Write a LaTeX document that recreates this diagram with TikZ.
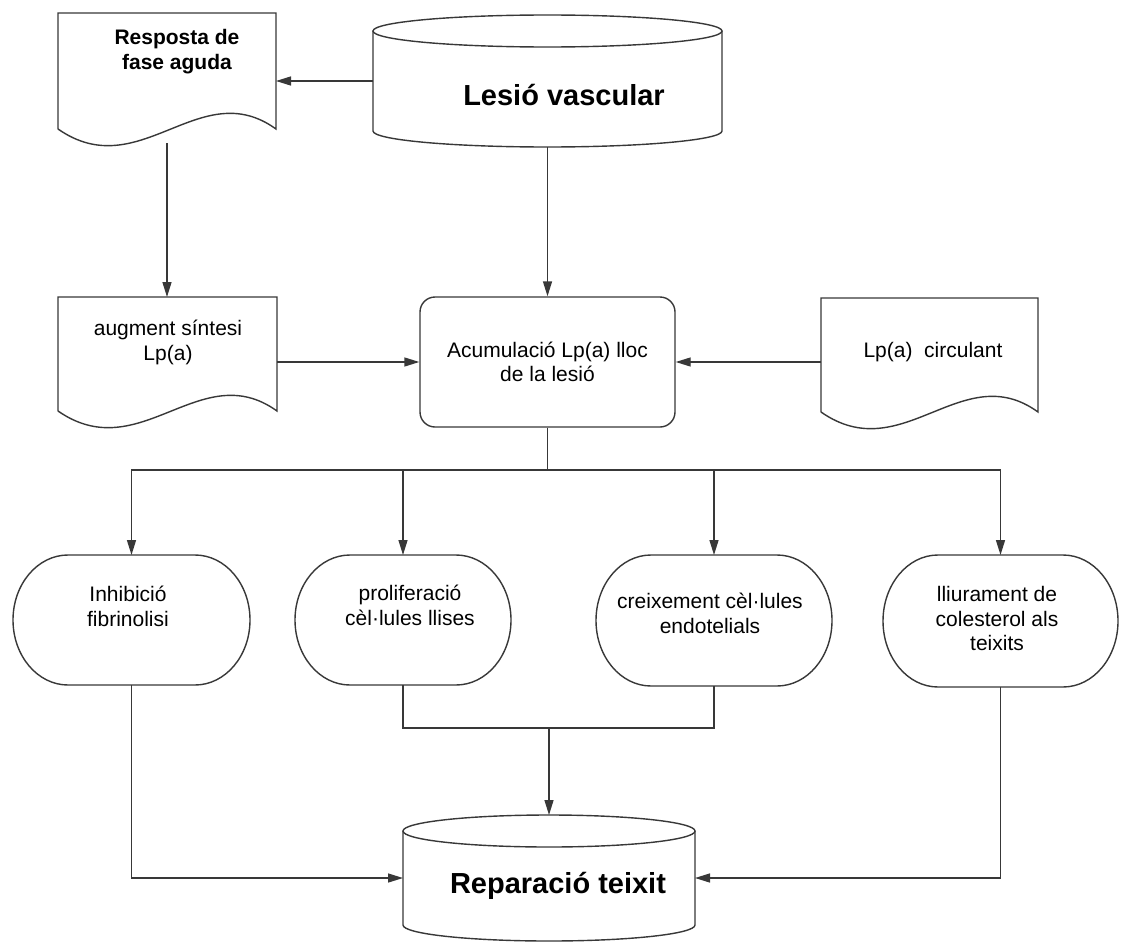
\documentclass[tikz,border=0pt]{standalone}
\usepackage{fontspec}
\setmainfont{Liberation Sans}
\usetikzlibrary{arrows.meta,calc}
\newcommand\mydoc[4]{%
  \pgfmathsetmacro\mydocw{#2-#1}%
  \draw[line] (#1,#4) -- (#1,#3) -- (#2,#3) -- (#2,#4)
    .. controls ({#2-0.35*\mydocw},{#4-55}) and ({#1+0.375*\mydocw},{#4+57}) .. (#1,#4);}
\newcommand\mycyl[4]{%
  \pgfmathsetmacro\cylrx{(#2-#1)/2}%
  \pgfmathsetmacro\cylcx{(#1+#2)/2}%
  \draw[line] (\cylcx,#3+16) ellipse[x radius=\cylrx pt, y radius=16pt];
  \draw[line] (#1,#3+16) -- (#1,#4-16) arc[start angle=180,end angle=360,x radius=\cylrx pt,y radius=16pt] -- (#2,#3+16);}
\newcommand\myterm[4]{%
  \pgfmathsetmacro\termry{(#4-#3)/2}%
  \draw[line] (#1+55,#3) -- (#2-55,#3) arc[start angle=90,end angle=-90,x radius=55pt,y radius=\termry pt]
    -- (#1+55,#4) arc[start angle=270,end angle=90,x radius=55pt,y radius=\termry pt] -- cycle;}
\begin{document}
\begin{tikzpicture}[x=1pt,y=-1pt,
  line/.style={draw=black!78, line width=1.4pt},
  arr/.style={line, -{Triangle[length=15pt,width=9pt]}},
  frame/.style={rectangle, inner sep=0pt, outer sep=0pt},
  txt/.style={fill=white, inner xsep=10pt, inner ysep=5pt, align=center, font=\fontsize{21}{24.5}\selectfont},
  btxt/.style={txt, font=\fontsize{21}{25}\selectfont\bfseries},
  bigtxt/.style={txt, font=\fontsize{29}{34}\selectfont\bfseries},
  boxs/.style={line, rounded corners=15pt, align=center, font=\fontsize{21}{24.5}\selectfont}]
\useasboundingbox (0,0) rectangle (1121,942);
\fill[white] (0,0) rectangle (1121,942);

% frames
\node[frame, minimum width=218pt, minimum height=116pt] (d1) at (167,71) {};
\node[frame, minimum width=349pt, minimum height=132pt] (c1) at (547.5,81) {};
\node[frame, minimum width=219pt, minimum height=114pt] (d2) at (167.5,354) {};
\node[boxs, minimum width=255pt, minimum height=130pt] (acc) at (547.5,362) {Acumulació Lp(a) lloc\\de la lesió};
\node[frame, minimum width=217pt, minimum height=114pt] (d3) at (929.5,355) {};
\node[frame, minimum width=237pt, minimum height=130pt] (t1) at (131.5,620) {};
\node[frame, minimum width=216pt, minimum height=130pt] (t2) at (403,620) {};
\node[frame, minimum width=236pt, minimum height=131pt] (t3) at (714,620.5) {};
\node[frame, minimum width=235pt, minimum height=132pt] (t4) at (1000.5,621) {};
\node[frame, minimum width=292pt, minimum height=126pt] (c2) at (549,878) {};

% outlines
\mydoc{58}{276}{13}{129}
\mydoc{58}{277}{297}{411}
\mydoc{821}{1038}{298}{412}
\mycyl{373}{722}{15}{147}
\mycyl{403}{695}{815}{941}
\myterm{13}{250}{555}{685}
\myterm{295}{511}{555}{685}
\myterm{596}{832}{555}{686}
\myterm{883}{1118}{555}{687}

% texts
\node[btxt] (d1t) at (177,52) {Resposta de\\fase aguda};
\node[bigtxt] (c1t) at (564,95) {Lesió vascular};
\node[txt] (d2t) at (168,342.5) {augment síntesi\\Lp(a)};
\node[txt] (d3t) at (933,352) {Lp(a)~ circulant};
\node[txt] (t1t) at (128,606.5) {Inhibició\\fibrinolisi};
\node[txt] (t2t) at (410,605.5) {proliferació\\cèl·lules llises};
\node[txt] (t3t) at (710,613.5) {creixement cèl·lules\\endotelials};
\node[txt] (t4t) at (997,618.5) {lliurament de\\colesterol als\\teixits};
\node[bigtxt] (c2t) at (558,886) {Reparació teixit};

% connectors
\draw[arr] (c1.west) -- (d1.east |- c1.west);
\draw[arr] ([yshift=-14pt]d1.south) -- (d1.south |- d2.north);
\draw[arr] (c1.south) -- (acc.north);
\draw[arr] (d2.east |- acc.west) -- (acc.west);
\draw[arr] (d3.west |- acc.east) -- (acc.east);
\coordinate (br) at (547.5,470);
\draw[line] (acc.south) -- (br);
\draw[arr] (br) -| (t1.north);
\draw[arr] (br) -| (t2.north);
\draw[arr] (br) -| (t3.north);
\draw[arr] (br) -| (t4.north);
\coordinate (mg) at (549,728);
\draw[line] (t2.south) |- (mg);
\draw[line] (t3.south) |- (mg);
\draw[arr] (mg) -- (c2.north);
\draw[arr] (t1.south) |- (c2.west);
\draw[arr] (t4.south) |- (c2.east);
\end{tikzpicture}
\end{document}
